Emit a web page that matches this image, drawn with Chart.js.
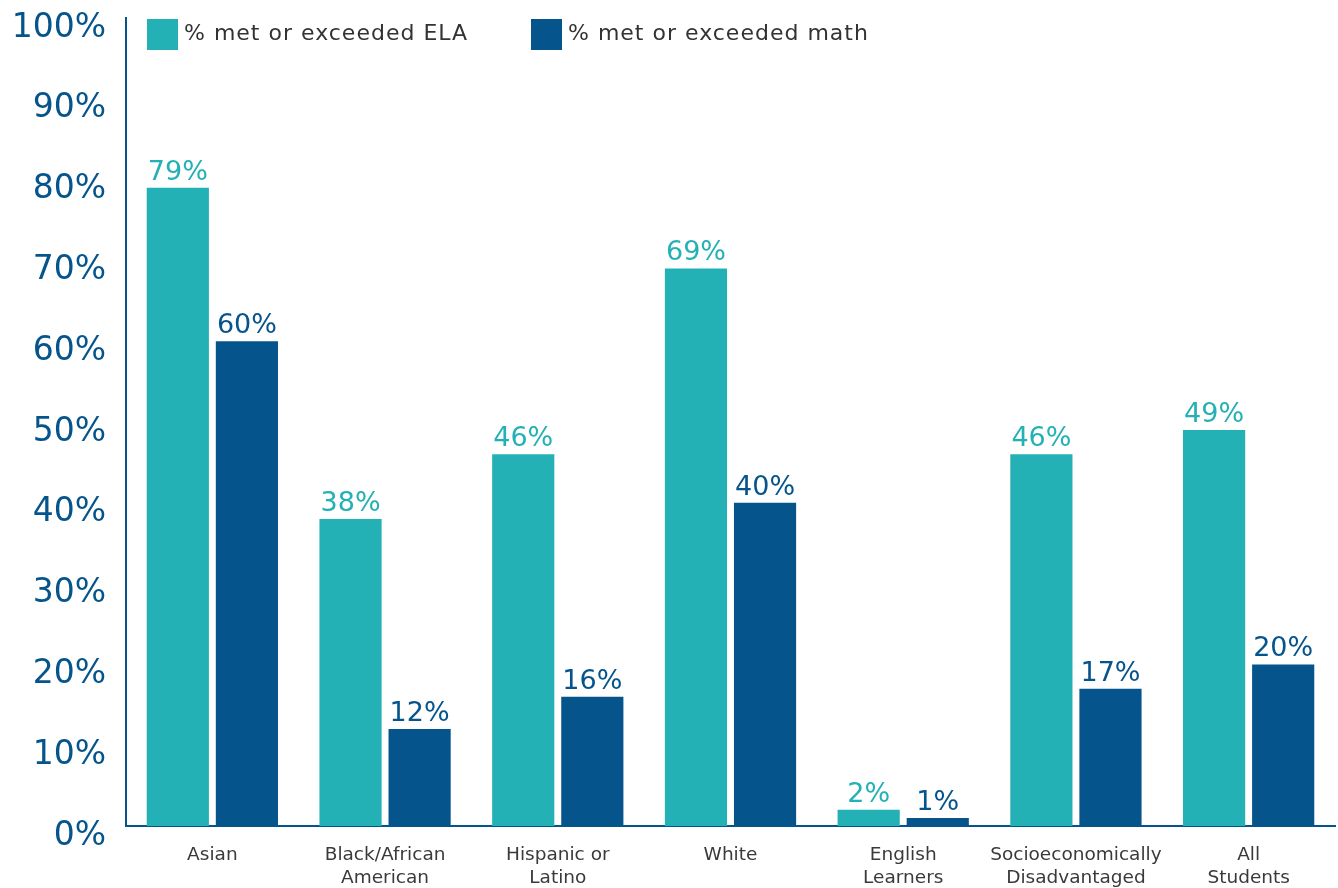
<!DOCTYPE html>
<html>
<head>
<meta charset="utf-8">
<script src="https://cdn.jsdelivr.net/npm/chart.js@4/dist/chart.umd.min.js"></script>
<style>
  body { margin: 0; background: #fff; }
  #wrap { position: relative; width: 1338px; height: 888px; }
  #legend { position: absolute; left: 147px; top: 19px; font-family: "DejaVu Sans", sans-serif; font-size: 22px; letter-spacing: 1px; color: #333; }
  .item { position: absolute; top: 0; white-space: nowrap; line-height: 28px; }
  .box { display: inline-block; width: 31px; height: 31px; vertical-align: top; margin-right: 6px; }
</style>
</head>
<body>
<div id="wrap">
  <canvas id="grafico" width="1338" height="888"></canvas>
  <div id="legend"></div>
</div>
<script>
const categorias = [
  ['Asian'],
  ['Black/African', 'American'],
  ['Hispanic or', 'Latino'],
  ['White'],
  ['English', 'Learners'],
  ['Socioeconomically', 'Disadvantaged'],
  ['All', 'Students']
];
const valoresELA = [79, 38, 46, 69, 2, 46, 49];
const valoresMath = [60, 12, 16, 40, 1, 17, 20];
const etiquetasY = [0, 10, 20, 30, 40, 50, 60, 70, 80, 90, 100];

const colorELA = '#23b1b5';
const colorMath = '#06548c';

// etiquetas encima de cada barra
const etiquetasBarras = {
  id: 'etiquetasBarras',
  afterDatasetsDraw(chart) {
    const ctx = chart.ctx;
    ctx.save();
    ctx.font = '27px "DejaVu Sans", sans-serif';
    ctx.textAlign = 'center';
    ctx.textBaseline = 'alphabetic';
    chart.data.datasets.forEach((ds, i) => {
      ctx.fillStyle = ds.backgroundColor;
      chart.getDatasetMeta(i).data.forEach((bar, j) => {
        ctx.fillText(ds.data[j] + '%', bar.x, bar.y - 8);
      });
    });
    ctx.restore();
  }
};

const grafico = new Chart(document.getElementById('grafico'), {
  type: 'bar',
  data: {
    labels: categorias,
    datasets: [
      { label: '% met or exceeded ELA', data: valoresELA, backgroundColor: colorELA },
      { label: '% met or exceeded math', data: valoresMath, backgroundColor: colorMath }
    ]
  },
  options: {
    animation: false,
    responsive: false,
    categoryPercentage: 0.8,
    barPercentage: 0.9,
    layout: { padding: { top: 18, right: 3, left: 0, bottom: 0 } },
    plugins: {
      legend: { display: false },
      tooltip: { enabled: false }
    },
    scales: {
      x: {
        grid: { display: false, drawTicks: false },
        border: { color: colorMath, width: 2 },
        ticks: {
          color: '#3a3a3a',
          padding: 18,
          maxRotation: 0,
          autoSkip: false,
          font: { family: '"DejaVu Sans", sans-serif', size: 18.5, lineHeight: 1.24 }
        },
        afterFit: (scale) => { scale.height = 62; }
      },
      y: {
        min: 0,
        max: 100,
        grid: { display: false, drawTicks: false },
        border: { color: colorMath, width: 2 },
        afterBuildTicks: (scale) => { scale.ticks = etiquetasY.map(v => ({ value: v })); },
        ticks: {
          color: colorMath,
          padding: 20,
          labelOffset: 10,
          font: { family: '"DejaVu Sans", sans-serif', size: 33 },
          callback: (v) => v + '%'
        },
        afterFit: (scale) => { scale.width = 126; scale.paddingTop = 0; scale.paddingBottom = 0; }
      }
    }
  },
  plugins: [etiquetasBarras]
});

// leyenda en html
const leyenda = document.getElementById('legend');
const posLeyenda = [0, 384];
grafico.data.datasets.forEach((ds, i) => {
  const item = document.createElement('div');
  item.className = 'item';
  item.style.left = posLeyenda[i] + 'px';
  item.innerHTML = '<span class="box" style="background:' + ds.backgroundColor + '"></span>' + ds.label;
  leyenda.appendChild(item);
});
</script>
</body>
</html>
